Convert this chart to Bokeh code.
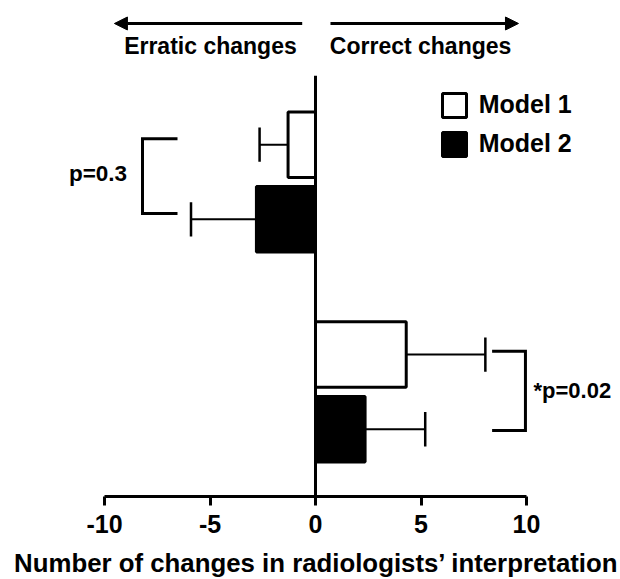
from bokeh.plotting import figure
from bokeh.models import Range1d, FixedTicker, Arrow, NormalHead, Legend, LegendItem
from bokeh.core.properties import value
from bokeh.embed import file_html
from bokeh.resources import INLINE

# ---- data ----
groups = ["Erratic changes", "Correct changes"]
model_names = ["Model 1", "Model 2"]
model1_mean = [-1.3, 4.3]
model1_sd = [1.35, 3.75]
model2_mean = [-2.8, 2.35]
model2_sd = [3.1, 2.85]
p_labels = ["p=0.3", "*p=0.02"]
x_ticks = [-10, -5, 0, 5, 10]
x_tick_labels = ["-10", "-5", "0", "5", "10"]
x_label = "Number of changes in radiologists\u2019 interpretation"

# ---- layout ----
FONT = "Liberation Sans"
W, H = 620, 579
LEFT = 12
PX_PER_X = 21.1
X0_PX = 315
PX_PER_Y = 74.7
FRAME_H = 496
group_y = [4.21, 1.40]
offset = 0.5
bar_h = 0.877
cap_half = 0.23

m1_y = [g + offset for g in group_y]
m2_y = [g - offset for g in group_y]


def err_end(means, sds):
    return [m + (s if m >= 0 else -s) for m, s in zip(means, sds)]


end1 = err_end(model1_mean, model1_sd)
end2 = err_end(model2_mean, model2_sd)

p = figure(width=W, height=H, output_backend="svg", toolbar_location=None,
           x_range=Range1d((LEFT - X0_PX) / PX_PER_X, (W - X0_PX) / PX_PER_X),
           y_range=Range1d(0, FRAME_H / PX_PER_Y),
           y_axis_location=None, min_border=0, min_border_left=LEFT,
           min_border_bottom=H - FRAME_H, outline_line_color=None)
p.grid.visible = False
p.background_fill_color = "white"

# zero line
p.segment(x0=[0], y0=[0], x1=[0], y1=[5.632], line_color="black", line_width=3)

# error bars
for means, ends, ys in ((model1_mean, end1, m1_y), (model2_mean, end2, m2_y)):
    p.segment(x0=means, y0=ys, x1=ends, y1=ys, line_color="black", line_width=2)
    p.segment(x0=ends, y0=[y - cap_half for y in ys], x1=ends,
              y1=[y + cap_half for y in ys], line_color="black", line_width=2.5)

# bars
r1 = p.hbar(y=m1_y, left=0, right=model1_mean, height=bar_h,
            fill_color="white", line_color="black", line_width=3)
r2 = p.hbar(y=m2_y, left=0, right=model2_mean, height=bar_h,
            fill_color="black", line_color="black", line_width=3)

# significance brackets
br_x_vert = [-8.2, 9.95]
br_x_arm = [-6.54, 8.37]
br_top = [m1_y[0] + 0.08, m1_y[1] + 0.045]
br_bot = [m2_y[0] + 0.08, m2_y[1] - 0.016]
p.multi_line(xs=[[a, v, v, a] for a, v in zip(br_x_arm, br_x_vert)],
             ys=[[t, t, b, b] for t, b in zip(br_top, br_bot)],
             line_color="black", line_width=3, line_join="miter")
p.text(x=[-8.93], y=[(br_top[0] + br_bot[0]) / 2 + 0.04], text=[p_labels[0]],
       text_align="right", text_baseline="middle", text_font=value(FONT),
       text_font_style="bold", text_font_size="22.5px", text_color="black")
p.text(x=[10.33], y=[(br_top[1] + br_bot[1]) / 2], text=[p_labels[1]],
       text_align="left", text_baseline="middle", text_font=value(FONT),
       text_font_style="bold", text_font_size="22px", text_color="black")

# header arrows and captions
arrow_y = 6.332
p.add_layout(Arrow(end=NormalHead(size=13, fill_color="black", line_color="black"),
                   x_start=-0.63, y_start=arrow_y, x_end=-9.53, y_end=arrow_y,
                   line_width=3, line_color="black"))
p.add_layout(Arrow(end=NormalHead(size=13, fill_color="black", line_color="black"),
                   x_start=0.71, y_start=arrow_y, x_end=9.62, y_end=arrow_y,
                   line_width=3, line_color="black"))
p.text(x=[-4.98, 4.98], y=[6.037, 6.037], text=groups,
       text_align="center", text_baseline="middle", text_font=value(FONT),
       text_font_style="bold", text_font_size="23px", text_color="black")

# legend
legend = Legend(items=[LegendItem(label=model_names[0], renderers=[r1]),
                       LegendItem(label=model_names[1], renderers=[r2])],
                location=(438.7 - LEFT, FRAME_H - 158.7),
                glyph_width=30, glyph_height=30, label_height=30,
                spacing=9, label_standoff=10, padding=0, margin=0,
                border_line_color=None, background_fill_alpha=0,
                label_text_font=FONT, label_text_font_style="bold",
                label_text_font_size="25px", label_text_color="black")
p.add_layout(legend)

# x axis
ax = p.xaxis[0]
ax.bounds = (-10, 10)
ax.ticker = FixedTicker(ticks=x_ticks)
ax.major_label_overrides = {t: s for t, s in zip(x_ticks, x_tick_labels)}
ax.axis_line_width = 3
ax.axis_line_color = "black"
ax.major_tick_line_width = 3
ax.major_tick_line_color = "black"
ax.major_tick_in = 0
ax.major_tick_out = 9
ax.minor_tick_line_color = None
ax.major_label_text_font = FONT
ax.major_label_text_font_style = "bold"
ax.major_label_text_font_size = "25px"
ax.major_label_text_color = "black"
ax.major_label_standoff = 9
ax.axis_label = x_label
ax.axis_label_text_font = FONT
ax.axis_label_text_font_style = "bold"
ax.axis_label_text_font_size = "25.8px"
ax.axis_label_text_color = "black"
ax.axis_label_standoff = 13

open("out.html", "w").write(file_html(p, INLINE))
